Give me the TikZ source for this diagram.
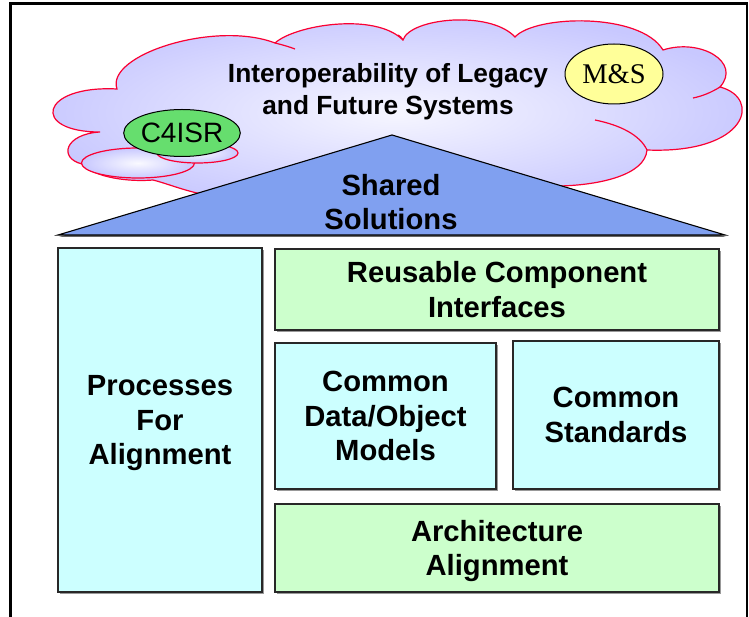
\documentclass[tikz,border=0pt]{standalone}
\usepackage{fontspec}
\setmainfont{Liberation Sans}
\newfontfamily\serifface{Liberation Serif}
\usetikzlibrary{shapes.geometric}

\definecolor{cloudfill}{RGB}{200,200,255}
\definecolor{cloudcore}{RGB}{246,246,255}
\definecolor{cloudline}{RGB}{250,0,50}
\definecolor{c4green}{RGB}{102,222,110}
\definecolor{msyellow}{RGB}{255,255,153}
\definecolor{roofblue}{RGB}{128,160,240}
\definecolor{cyanbox}{RGB}{204,255,255}
\definecolor{greenbox}{RGB}{204,255,204}
\definecolor{boxedge}{RGB}{40,40,40}

% a line whose descenders do not count when the text is centred
\newcommand{\nodepth}[1]{\raisebox{0pt}[\height][0pt]{#1}}

\tikzset{
  cloudshape/.style={draw=cloudline, line width=1.2pt, inner color=cloudcore, outer color=cloudfill},
  cloudseam/.style={draw=cloudline, line width=1.2pt},
  puff/.style={draw=cloudline, line width=1.2pt, inner color=cloudcore!60!white, outer color=cloudfill},
  tag/.style={ellipse, draw=black, line width=1pt, inner sep=0pt, font=\fontsize{28}{30}\selectfont},
  bigtext/.style={font=\bfseries\fontsize{29.2}{34.5}\selectfont, align=center, inner sep=0pt},
  block/.style={draw=boxedge, line width=1.3pt, inner sep=0pt, align=center,
    font=\bfseries\fontsize{29.2}{34.5}\selectfont,
    preaction={draw=none, fill=black!40, transform canvas={shift={(2pt,-2pt)}}}},
  cyanblock/.style={block, fill=cyanbox},
  greenblock/.style={block, fill=greenbox},
}

\begin{document}
\begin{tikzpicture}[x=1pt, y=-1pt]
  \useasboundingbox (0,0) rectangle (749,617);
  \fill[white] (0,0) rectangle (749,617);

  % open frame round the diagram
  \draw[line width=2.6pt] (10.5,617) -- (10.5,3.7) -- (747,3.7) -- (747,617);

  % the cloud
  \path[cloudshape] (117,89)
    .. controls (105,55) and (215,20) .. (275,43)
    .. controls (295,25) and (375,12) .. (403,40)
    .. controls (410,18) and (490,10) .. (515,37)
    .. controls (535,15) and (640,12) .. (663,50)
    .. controls (700,38) and (742,62) .. (720,87)
    .. controls (762,98) and (748,154) .. (647,150)
    .. controls (645,175) and (600,185) .. (560,186)
    .. controls (450,215) and (260,215) .. (197,193)
    .. controls (180,189) and (165,183) .. (153,180)
    .. controls (130,182) and (95,178) .. (82,164)
    .. controls (58,158) and (65,134) .. (100,132)
    .. controls (30,132) and (40,85) .. (117,89) -- cycle;
  % seams where the puffs overlap
  \draw[cloudseam] (275,43) .. controls (283,45) and (290,47) .. (295,49);
  \draw[cloudseam] (720,87) .. controls (712,92) and (703,96) .. (693,98);
  \draw[cloudseam] (647,150) .. controls (640,135) and (620,125) .. (595,120);
  \draw[cloudseam] (403,40) .. controls (401,37) and (400,36) .. (398,35);

  % small puffs at the lower left
  \path[puff] (138,163) ellipse [x radius=56.5, y radius=15];
  \path[puff] (197.5,153) ellipse [x radius=40.5, y radius=10];

  % system tags
  \node[tag, fill=c4green, minimum width=114pt, minimum height=47pt] (c4isr) at (182,133) {C4ISR};
  \node[tag, fill=msyellow, minimum width=98pt, minimum height=60pt, font=\serifface\fontsize{28.5}{30}\selectfont] (ms) at (614,74) {M\&S};

  \node[font=\bfseries\fontsize{26.3}{32}\selectfont, align=center, inner sep=0pt] (goal) at (388,92)
    {Interoperability of Legacy\\and Future Systems};

  % roof
  \fill[black!60] (59,237) -- (393,137) -- (726,237) -- cycle;
  \draw[fill=roofblue, line width=1.1pt] (58,235) -- (392,135) -- (725,235) -- cycle;
  \node[bigtext] (roof) at (391,202) {Shared\\Solutions};

  % building blocks
  \node[cyanblock, minimum width=204pt, minimum height=344pt] (proc) at (160,420)
    {Processes\\For\\\nodepth{Alignment}};
  \node[greenblock, minimum width=444pt, minimum height=81pt] (reuse) at (497,289.5)
    {Reusable Component\\Interfaces};
  \node[cyanblock, minimum width=221pt, minimum height=146pt] (data) at (385.5,416)
    {Common\\Data/Object\\Models};
  \node[cyanblock, minimum width=206pt, minimum height=148pt] (std) at (616,415)
    {Common\\Standards};
  \node[greenblock, minimum width=444pt, minimum height=88pt] (arch) at (497,548)
    {Architecture\\\nodepth{Alignment}};
\end{tikzpicture}
\end{document}
